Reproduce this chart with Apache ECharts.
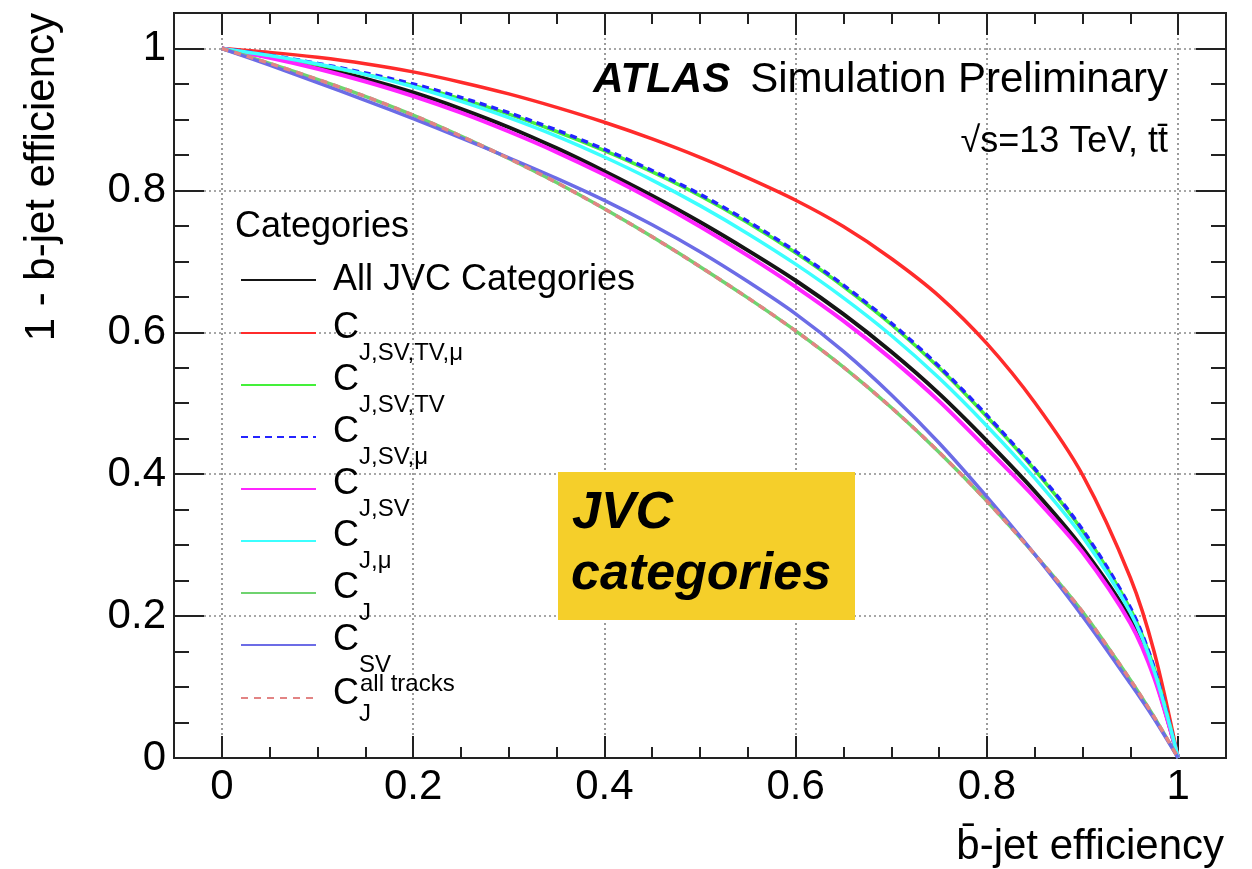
<!DOCTYPE html>
<html><head><meta charset="utf-8">
<script src="https://cdn.jsdelivr.net/npm/echarts@6/dist/echarts.min.js"></script>
<style>html,body{margin:0;padding:0;background:#fff}#c{width:1252px;height:869px}</style>
</head><body><div id="c"></div>
<script>
// ---- data ----
const xTickValues = [0, 0.2, 0.4, 0.6, 0.8, 1];
const yTickValues = [0, 0.2, 0.4, 0.6, 0.8, 1];
const bEff = [0, 0.05, 0.1, 0.15, 0.2, 0.25, 0.3, 0.35, 0.4, 0.45, 0.5, 0.55, 0.6, 0.65, 0.7, 0.75, 0.8, 0.85, 0.9, 0.95, 0.975, 1];
const allJVC   = [1, 0.988, 0.974, 0.9575, 0.938, 0.915, 0.889, 0.8595, 0.827, 0.7925, 0.7555, 0.7155, 0.673, 0.6255, 0.5725, 0.5135, 0.447, 0.376, 0.296, 0.196, 0.116, 0];
const cJSVTVmu = [1, 0.9945, 0.9875, 0.9785, 0.967, 0.9525, 0.936, 0.917, 0.896, 0.8725, 0.8465, 0.8175, 0.786, 0.749, 0.704, 0.651, 0.584, 0.501, 0.399, 0.254, 0.149, 0];
const cJSVTV   = [1, 0.9885, 0.977, 0.9635, 0.948, 0.929, 0.9075, 0.883, 0.856, 0.826, 0.7925, 0.7545, 0.712, 0.6645, 0.611, 0.550, 0.481, 0.406, 0.320, 0.210, 0.126, 0];
const cJSVmu   = [1, 0.9905, 0.979, 0.9655, 0.950, 0.931, 0.9095, 0.885, 0.858, 0.828, 0.7945, 0.7565, 0.714, 0.6665, 0.613, 0.552, 0.483, 0.408, 0.322, 0.212, 0.127, 0];
const cJSV     = [1, 0.987, 0.9715, 0.9535, 0.933, 0.9095, 0.883, 0.854, 0.822, 0.787, 0.749, 0.708, 0.664, 0.616, 0.5625, 0.503, 0.436, 0.367, 0.290, 0.190, 0.1125, 0];
const cJmu     = [1, 0.990, 0.978, 0.9635, 0.946, 0.9255, 0.9025, 0.8765, 0.847, 0.8145, 0.7785, 0.739, 0.696, 0.6485, 0.5955, 0.5355, 0.468, 0.3945, 0.312, 0.205, 0.1225, 0];
const cJ       = [1, 0.979, 0.9565, 0.9325, 0.906, 0.8765, 0.845, 0.811, 0.774, 0.7345, 0.6925, 0.6485, 0.602, 0.551, 0.494, 0.431, 0.362, 0.287, 0.206, 0.110, 0.0575, 0];
const cSV      = [1, 0.9765, 0.952, 0.927, 0.901, 0.874, 0.846, 0.817, 0.786, 0.7515, 0.7135, 0.6715, 0.626, 0.573, 0.512, 0.444, 0.368, 0.287, 0.200, 0.105, 0.055, 0];
const cJall    = [1, 0.979, 0.9565, 0.9325, 0.906, 0.8765, 0.845, 0.811, 0.774, 0.7345, 0.6925, 0.6485, 0.602, 0.551, 0.494, 0.431, 0.362, 0.287, 0.206, 0.110, 0.0575, 0];

const seriesNames = ['All JVC Categories','C_J,SV,TV,mu','C_J,SV,TV','C_J,SV,mu','C_J,SV','C_J,mu','C_J','C_SV','C_J^all tracks'];
const seriesValues = [allJVC, cJSVTVmu, cJSVTV, cJSVmu, cJSV, cJmu, cJ, cSV, cJall];
const seriesColors = ['#151515','#ff2b2b','#44f03a','#2424ff','#ff25ff','#3cffff','#6fd36f','#6c6ce6','#e28484'];
const seriesDash   = ['solid','solid','solid',[7,5],'solid','solid','solid','solid',[7,6]];
const seriesWidth  = [4,3.5,3.5,3.5,4,3.5,3.5,3.5,3.5];
const legendLabels = {
  'All JVC Categories': '{m|All JVC Categories}',
  'C_J,SV,TV,mu': '{c|C}{s|J,SV,TV,\u03bc}',
  'C_J,SV,TV': '{c|C}{s|J,SV,TV}',
  'C_J,SV,mu': '{c|C}{s|J,SV,\u03bc}',
  'C_J,SV': '{c|C}{s|J,SV}',
  'C_J,mu': '{c|C}{s|J,\u03bc}',
  'C_J': '{c|C}{s|J}',
  'C_SV': '{c|C}{s|SV}',
  'C_J^all tracks': '{c2|C}{sj|J}{sup|all tracks}'
};

const FONT = '"Liberation Sans", Arial, Helvetica, sans-serif';
const fmt = v => String(+(+v).toFixed(2));

function xAx(pos, major) {
  const a = {
    type: 'value', gridIndex: 0, min: -0.05, max: 1.05, position: pos,
    axisLine: {show: true, onZero: false, lineStyle: {color: '#222', width: 2}},
    axisTick: {show: true, inside: true, length: major ? 22 : 11, lineStyle: {color: '#222', width: 2}},
    axisLabel: {show: false},
    splitLine: {show: false}
  };
  if (major) {
    a.axisTick.customValues = xTickValues;
    a.axisLabel = {show: pos === 'bottom', customValues: xTickValues, formatter: fmt, margin: 8,
      fontSize: 42, color: '#000', fontFamily: FONT};
    a.splitLine = {show: pos === 'bottom', lineStyle: {color: '#8a8a8a', width: 1.7, type: [2, 3]}};
  } else {
    a.interval = 0.05;
  }
  return a;
}
function yAx(pos, major) {
  const a = {
    type: 'value', gridIndex: 0, min: 0, max: 1.05, position: pos,
    axisLine: {show: true, onZero: false, lineStyle: {color: '#222', width: 2}},
    axisTick: {show: true, inside: true, length: major ? 30 : 15, lineStyle: {color: '#222', width: 2}},
    axisLabel: {show: false},
    splitLine: {show: false}
  };
  if (major) {
    a.axisTick.customValues = yTickValues;
    a.axisLabel = {show: pos === 'left', customValues: yTickValues, formatter: fmt, margin: 8,
      fontSize: 42, color: '#000', fontFamily: FONT};
    a.splitLine = {show: pos === 'left', lineStyle: {color: '#8a8a8a', width: 1.7, type: [2, 3]}};
  } else {
    a.interval = 0.05;
  }
  return a;
}

const series = seriesNames.map((n, i) => ({
  name: n, type: 'line', xAxisIndex: 0, yAxisIndex: 0,
  data: bEff.map((x, k) => [x, seriesValues[i][k]]),
  symbol: 'none', smooth: 0.3,
  lineStyle: {color: seriesColors[i], width: seriesWidth[i], type: seriesDash[i]},
  itemStyle: {color: seriesColors[i]},
  z: 3
}));

const richLegend = {
  m: {fontSize: 36, lineHeight: 36, padding: [13.5, 0, 13.5, 12], fontFamily: FONT, color: '#000'},
  c: {fontSize: 36, lineHeight: 36, padding: [8.5, 0, 18.5, 12], fontFamily: FONT, color: '#000'},
  s: {fontSize: 24, lineHeight: 22, padding: [41, 0, 0, 0], fontFamily: FONT, color: '#000'},
  c2: {fontSize: 36, lineHeight: 36, padding: [10, 0, 17, 12], fontFamily: FONT, color: '#000'},
  sj: {fontSize: 24, lineHeight: 22, padding: [37, 0, 4, 0], width: 1, fontFamily: FONT, color: '#000'},
  sup: {fontSize: 24, lineHeight: 22, padding: [7, 0, 34, 0], fontFamily: FONT, color: '#000'}
};
const legendLineY = [280, 332, 384, 436, 488, 540, 592, 644, 697];
const legends = seriesNames.map((n, i) => ({
  orient: 'vertical', left: 240, top: legendLineY[i] - 31.5, padding: 0,
  itemWidth: 75, itemHeight: 14, selectedMode: false,
  data: [n],
  itemStyle: {opacity: 0, borderWidth: 0},
  formatter: name => legendLabels[name],
  textStyle: {color: '#000', fontFamily: FONT, fontSize: 36, rich: richLegend}
}));

const chart = echarts.init(document.getElementById('c'), null, {renderer: 'canvas'});
chart.setOption({
  animation: false,
  backgroundColor: '#fff',
  grid: {left: 174, right: 26, top: 13, bottom: 111, containLabel: false},
  xAxis: [xAx('bottom', true), xAx('bottom', false), xAx('top', true), xAx('top', false)],
  yAxis: [yAx('left', true), yAx('left', false), yAx('right', true), yAx('right', false)],
  legend: legends,
  graphic: [
    {type: 'text', x: 235, y: 227, z: 10,
     style: {text: 'Categories', fontSize: 36, fontFamily: FONT, fill: '#000', verticalAlign: 'middle', align: 'left'}},
    {type: 'text', x: 1168, y: 80, z: 10,
     style: {text: '{b|ATLAS}{n|Simulation Preliminary}', align: 'right', verticalAlign: 'middle', fill: '#000',
       rich: {b: {fontSize: 42, fontWeight: 'bold', fontStyle: 'italic', fontFamily: FONT, fill: '#000'},
              n: {fontSize: 42, fontFamily: FONT, padding: [0, 0, 0, 20], fill: '#000'}}}},
    {type: 'text', x: 1168, y: 142, z: 10,
     style: {text: '\u221as=13 TeV, tt\u0304', fontSize: 36, fontFamily: FONT, fill: '#000', align: 'right', verticalAlign: 'middle'}},
    {type: 'text', x: 1224, y: 847, z: 10,
     style: {text: 'b\u0304-jet efficiency', fontSize: 42, fontFamily: FONT, fill: '#000', align: 'right', verticalAlign: 'middle'}},
    {type: 'text', x: 42, y: 13, rotation: Math.PI / 2, z: 10,
     style: {text: '1 - b-jet efficiency', fontSize: 42, fontFamily: FONT, fill: '#000', align: 'right', verticalAlign: 'middle'}},
    {type: 'rect', z: 20, shape: {x: 558, y: 472, width: 297, height: 148}, style: {fill: '#f5cf2a'}},
    {type: 'text', x: 572, y: 514, z: 21,
     style: {text: 'JVC', fontSize: 52, fontWeight: 'bold', fontStyle: 'italic', fontFamily: FONT, fill: '#000', verticalAlign: 'middle'}},
    {type: 'text', x: 571, y: 575, z: 21,
     style: {text: 'categories', fontSize: 52, fontWeight: 'bold', fontStyle: 'italic', fontFamily: FONT, fill: '#000', verticalAlign: 'middle'}}
  ],
  series: series
});
</script></body></html>
